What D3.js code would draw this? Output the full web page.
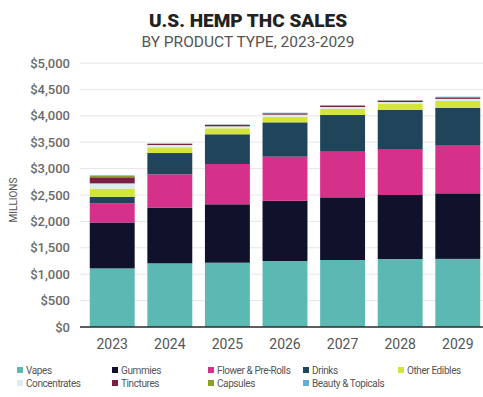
<!DOCTYPE html>
<html>
<head>
<meta charset="utf-8">
<script src="https://cdn.jsdelivr.net/npm/d3@7/dist/d3.min.js"></script>
<style>
  html, body { margin: 0; padding: 0; background: #ffffff; }
  svg { display: block; font-family: Roboto, "Noto Sans", sans-serif; }
</style>
</head>
<body>
<svg id="chart" width="483" height="397"></svg>
<script>
// Sales by product type, $ millions
const years = ["2023", "2024", "2025", "2026", "2027", "2028", "2029"];
const vapes        = [1110, 1206, 1218, 1250, 1269, 1288, 1290];
const gummies      = [870, 1057, 1106, 1140, 1187, 1212, 1242];
const flower       = [365, 629, 763, 836, 864, 871, 902];
const drinks       = [120, 403, 563, 650, 695, 739, 719];
const otherEdibles = [155, 108, 113, 107, 114, 113, 127];
const concentrates = [100, 44, 38, 38, 38, 38, 41];
const tinctures    = [115, 20, 25, 25, 25, 25, 27];
const capsules     = [25, 7, 7, 8, 8, 8, 8];
const beauty       = [13, 5, 5, 5, 5, 5, 6];
const yTicks = [0, 500, 1000, 1500, 2000, 2500, 3000, 3500, 4000, 4500, 5000];

const series = [
  { name: "Vapes", values: vapes, color: "#5cb8b2" },
  { name: "Gummies", values: gummies, color: "#10112a" },
  { name: "Flower & Pre-Rolls", values: flower, color: "#d5308a" },
  { name: "Drinks", values: drinks, color: "#20445a" },
  { name: "Other Edibles", values: otherEdibles, color: "#d3e43a" },
  { name: "Concentrates", values: concentrates, color: "#dcedf1" },
  { name: "Tinctures", values: tinctures, color: "#7b1f45" },
  { name: "Capsules", values: capsules, color: "#8c9f2a" },
  { name: "Beauty & Topicals", values: beauty, color: "#68acd6" }
];

const svg = d3.select("#chart");

// Title block
svg.append("text")
  .attr("x", 248).attr("y", 27)
  .attr("text-anchor", "middle")
  .attr("font-size", 19).attr("font-weight", 900)
  .attr("fill", "#222")
  .text("U.S. HEMP THC SALES");
svg.append("text")
  .attr("x", 248).attr("y", 47)
  .attr("text-anchor", "middle")
  .attr("font-size", 15.5)
  .attr("fill", "#555")
  .text("BY PRODUCT TYPE, 2023-2029");

const x = d3.scaleBand().domain(years).range([84, 486]).paddingInner(0.22).paddingOuter(0.1);
const y = d3.scaleLinear().domain([0, 5000]).range([327, 63]);

// Gridlines
svg.append("g")
  .selectAll("line")
  .data(yTicks.filter(d => d > 0))
  .join("line")
  .attr("x1", 80).attr("x2", 483)
  .attr("y1", d => y(d)).attr("y2", d => y(d))
  .attr("stroke", "#e6e6e6").attr("stroke-width", 1);

// Y axis labels
const yAxis = svg.append("g")
  .attr("transform", "translate(72,0)")
  .call(d3.axisLeft(y).tickValues(yTicks).tickSize(0).tickPadding(2)
    .tickFormat(d => "$" + d3.format(",")(d)));
yAxis.select(".domain").remove();
yAxis.selectAll("text")
  .attr("font-size", 13).attr("font-weight", 500)
  .attr("fill", "#6a6a6a")
  .attr("font-family", "Roboto, sans-serif");

svg.append("text")
  .attr("transform", "translate(17,200) rotate(-90)")
  .attr("text-anchor", "middle")
  .attr("font-size", 10).attr("fill", "#555")
  .text("MILLIONS");

// Stacked bars
const rows = years.map((yr, i) => {
  const r = { year: yr };
  series.forEach(s => { r[s.name] = s.values[i]; });
  return r;
});
const stack = d3.stack().keys(series.map(s => s.name));
const layers = stack(rows);

svg.append("g")
  .selectAll("g")
  .data(layers)
  .join("g")
  .attr("fill", (d, i) => series[i].color)
  .selectAll("rect")
  .data(d => d)
  .join("rect")
  .attr("x", d => x(d.data.year))
  .attr("width", x.bandwidth())
  .attr("y", d => y(d[1]))
  .attr("height", d => y(d[0]) - y(d[1]));

// Baseline
svg.append("line")
  .attr("x1", 80).attr("x2", 483)
  .attr("y1", y(0)).attr("y2", y(0))
  .attr("stroke", "#2a2a2a").attr("stroke-width", 1.5);

// X axis labels
const xAxis = svg.append("g")
  .attr("transform", `translate(0,${y(0)})`)
  .call(d3.axisBottom(x).tickSize(0).tickPadding(12));
xAxis.select(".domain").remove();
xAxis.selectAll("text")
  .attr("font-size", 14).attr("fill", "#555")
  .attr("font-family", "Roboto, sans-serif");

// Legend
const legendCols = [17, 112, 208, 303, 398];
const legend = svg.append("g")
  .selectAll("g")
  .data(series)
  .join("g")
  .attr("transform", (d, i) => `translate(${legendCols[i % 5]},${i < 5 ? 370 : 383})`);
legend.append("rect")
  .attr("x", 0).attr("y", -3).attr("width", 6).attr("height", 6)
  .attr("fill", d => d.color);
legend.append("text")
  .attr("x", 9).attr("y", 0).attr("dy", "0.35em")
  .attr("font-size", 10).attr("fill", "#555")
  .attr("letter-spacing", -0.4)
  .text(d => d.name);
</script>
</body>
</html>
